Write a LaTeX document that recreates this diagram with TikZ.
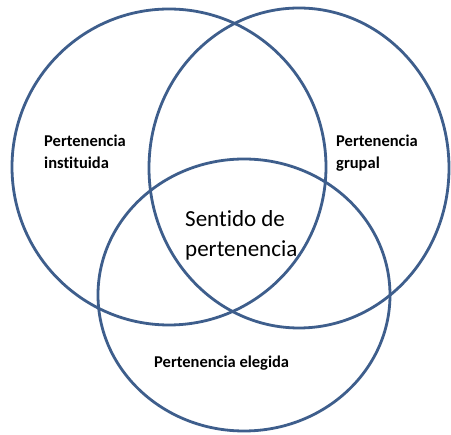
\documentclass[tikz,border=0pt]{standalone}
\usepackage{fontspec}
\setmainfont[Ligatures={NoCommon,NoDiscretionary,NoContextual}]{Carlito}
\definecolor{ring}{RGB}{62,94,140}
\begin{document}
\begin{tikzpicture}[x=1pt,y=-1pt,
  ring/.style={draw=ring,line width=2.8pt},
  lbl/.style={anchor=base west,inner sep=0pt,align=left,font=\fontsize{16.5}{22}\selectfont\bfseries},
  ctr/.style={anchor=base west,inner sep=0pt,align=left,font=\fontsize{23}{30}\selectfont}]
\useasboundingbox[fill=white] (0,0) rectangle (451,435);
\draw[ring] (169,167) ellipse [x radius=157pt, y radius=158pt];
\draw[ring] (299,168) ellipse [x radius=150pt, y radius=160pt];
\draw[ring] (244,295) ellipse [x radius=146pt, y radius=136pt];
\node[lbl] (inst) at (44,169) {Pertenencia\\instituida};
\node[lbl] (grup) at (336,169) {Pertenencia\\grupal};
\node[lbl] (eleg) at (154,368) {Pertenencia elegida};
\node[ctr] (sent) at (185,257) {Sentido de\\pertenencia};
\end{tikzpicture}
\end{document}
